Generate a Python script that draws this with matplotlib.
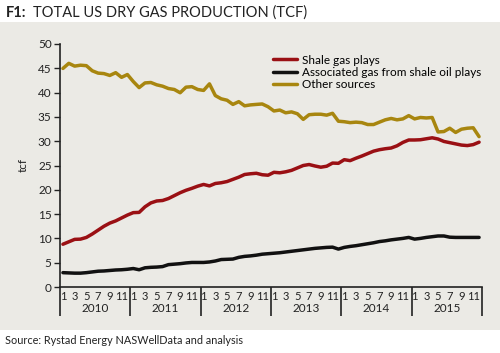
import numpy as np
import matplotlib
matplotlib.use("Agg")
import matplotlib.pyplot as plt
from matplotlib.patches import Rectangle

plt.rcParams['font.family'] = ['Lato', 'DejaVu Sans']

years = ['2010', '2011', '2012', '2013', '2014', '2015']
month_labels = ['1', '3', '5', '7', '9', '11']

shale_gas = [8.8, 9.3, 9.8, 9.85, 10.2, 10.9, 11.7, 12.5, 13.15, 13.6, 14.2, 14.8,
             15.3, 15.35, 16.5, 17.3, 17.7, 17.8, 18.2, 18.8, 19.4, 19.9, 20.3, 20.75,
             21.1, 20.8, 21.3, 21.45, 21.7, 22.15, 22.6, 23.15, 23.3, 23.4, 23.1, 23.0,
             23.6, 23.5, 23.7, 24.0, 24.5, 25.0, 25.2, 24.9, 24.65, 24.85, 25.5, 25.45,
             26.2, 26.0, 26.5, 26.95, 27.45, 27.95, 28.25, 28.45, 28.6, 29.05, 29.75, 30.25,
             30.25, 30.3, 30.5, 30.7, 30.45, 29.95, 29.7, 29.45, 29.2, 29.1, 29.3, 29.8]

assoc_gas = [2.95, 2.9, 2.85, 2.85, 2.95, 3.1, 3.25, 3.3, 3.4, 3.5, 3.55, 3.65,
             3.8, 3.55, 3.95, 4.05, 4.1, 4.2, 4.6, 4.7, 4.8, 4.95, 5.05, 5.05,
             5.05, 5.15, 5.35, 5.65, 5.7, 5.75, 6.1, 6.3, 6.4, 6.55, 6.75, 6.85,
             6.95, 7.05, 7.2, 7.35, 7.5, 7.65, 7.8, 7.95, 8.05, 8.15, 8.2, 7.8,
             8.15, 8.35, 8.5, 8.7, 8.9, 9.1, 9.35, 9.5, 9.7, 9.85, 10.0, 10.2,
             9.85, 10.0, 10.2, 10.35, 10.5, 10.5, 10.25, 10.2, 10.2, 10.2, 10.2, 10.2]

other_sources = [44.97, 46.02, 45.45, 45.64, 45.54, 44.49, 44.01, 43.91, 43.53, 44.10, 43.14, 43.72,
                 42.28, 41.03, 41.99, 42.08, 41.60, 41.32, 40.84, 40.64, 39.97, 41.12, 41.22, 40.64,
                 40.45, 41.80, 39.39, 38.72, 38.43, 37.57, 38.14, 37.28, 37.47, 37.57, 37.66, 37.09,
                 36.22, 36.41, 35.84, 36.03, 35.65, 34.49, 35.45, 35.55, 35.55, 35.36, 35.74, 34.11,
                 34.01, 33.82, 33.92, 33.82, 33.43, 33.43, 33.92, 34.40, 34.68, 34.40, 34.59, 35.26,
                 34.59, 34.88, 34.78, 34.88, 31.90, 31.99, 32.67, 31.80, 32.47, 32.67, 32.76, 30.94]

W, H = 500, 353
fig = plt.figure(figsize=(W / 100, H / 100), dpi=100)
fig.patch.set_facecolor('white')

def fx(px):
    return px / W

def fy(px):
    return 1 - px / H

# gray panel
fig.patches.append(Rectangle((0, fy(330)), 1, (330 - 22) / H, transform=fig.transFigure,
                             facecolor='#ebeae5', edgecolor='none', zorder=0))
# light gradient behind the plot area
bg = fig.add_axes([fx(58), fy(300), fx(440), (300 - 40) / H], zorder=0)
bg.axis('off')
grad = np.linspace(0, 1, 256)[None, :]
c0 = np.array([0.995, 0.995, 0.993])
c1 = np.array([0.925, 0.922, 0.905])
img = c0[None, None, :] + (c1 - c0)[None, None, :] * (grad[..., None] ** 1.6)
bg.imshow(img, aspect='auto', extent=[0, 1, 0, 1])
bg.set_xlim(0, 1)
bg.set_ylim(0, 1)

ax = fig.add_axes([fx(60), fy(287), fx(482) - fx(60), (287 - 44) / H], zorder=2)
ax.set_facecolor('none')

n = len(shale_gas)
x = np.arange(n) + 0.5
red = '#9a1014'
gold = '#a8860f'
ax.plot(x, shale_gas, color=red, lw=2.5, label='Shale gas plays', solid_capstyle='round')
ax.plot(x, assoc_gas, color='#111111', lw=2.5, label='Associated gas from shale oil plays', solid_capstyle='round')
ax.plot(x, other_sources, color=gold, lw=2.5, label='Other sources', solid_capstyle='round')

ax.set_xlim(0, 72)
ax.set_ylim(0, 50)
ax.set_yticks(np.arange(0, 51, 5))
ax.tick_params(axis='y', direction='out', length=4, width=1, labelsize=8.5, colors='#222222', pad=2)

for s in ['top', 'right']:
    ax.spines[s].set_visible(False)
for s in ['left', 'bottom']:
    ax.spines[s].set_color('#222222')
    ax.spines[s].set_linewidth(1.2)

# month labels (major) and year separators (minor)
major_pos = []
major_lab = []
for yi in range(len(years)):
    for k, ml in enumerate(month_labels):
        major_pos.append(yi * 12 + 2 * k + 0.5)
        major_lab.append(ml)
ax.set_xticks(major_pos)
ax.set_xticklabels(major_lab)
ax.tick_params(axis='x', which='major', length=0, labelsize=8, colors='#222222', pad=3)
ax.set_xticks(np.arange(0, 73, 12), minor=True)
ax.tick_params(axis='x', which='minor', direction='out', length=21, width=1.2, color='#222222')
for yi, yl in enumerate(years):
    ax.text(yi * 12 + 6, -0.087, yl, transform=ax.get_xaxis_transform(),
            ha='center', va='center', fontsize=8.5, color='#222222')

ax.set_ylabel('tcf', fontsize=8.5, color='#222222', labelpad=7)

leg = ax.legend(loc='upper left', bbox_to_anchor=(0.48, 1.0), frameon=False, fontsize=8.5,
                handlelength=2.0, handletextpad=0.4, labelspacing=0.1, borderaxespad=0.5)

fig.text(fx(6), fy(13), 'F1:', fontsize=10.5, fontweight='bold', va='center', ha='left', color='#222222')
fig.text(fx(33), fy(13), 'TOTAL US DRY GAS PRODUCTION (TCF)', fontsize=10.5, va='center', ha='left', color='#222222')
fig.text(fx(5), fy(341), 'Source: Rystad Energy NASWellData and analysis', fontsize=7.8,
         va='center', ha='left', color='#222222')

fig.savefig('out.png', dpi=100)
